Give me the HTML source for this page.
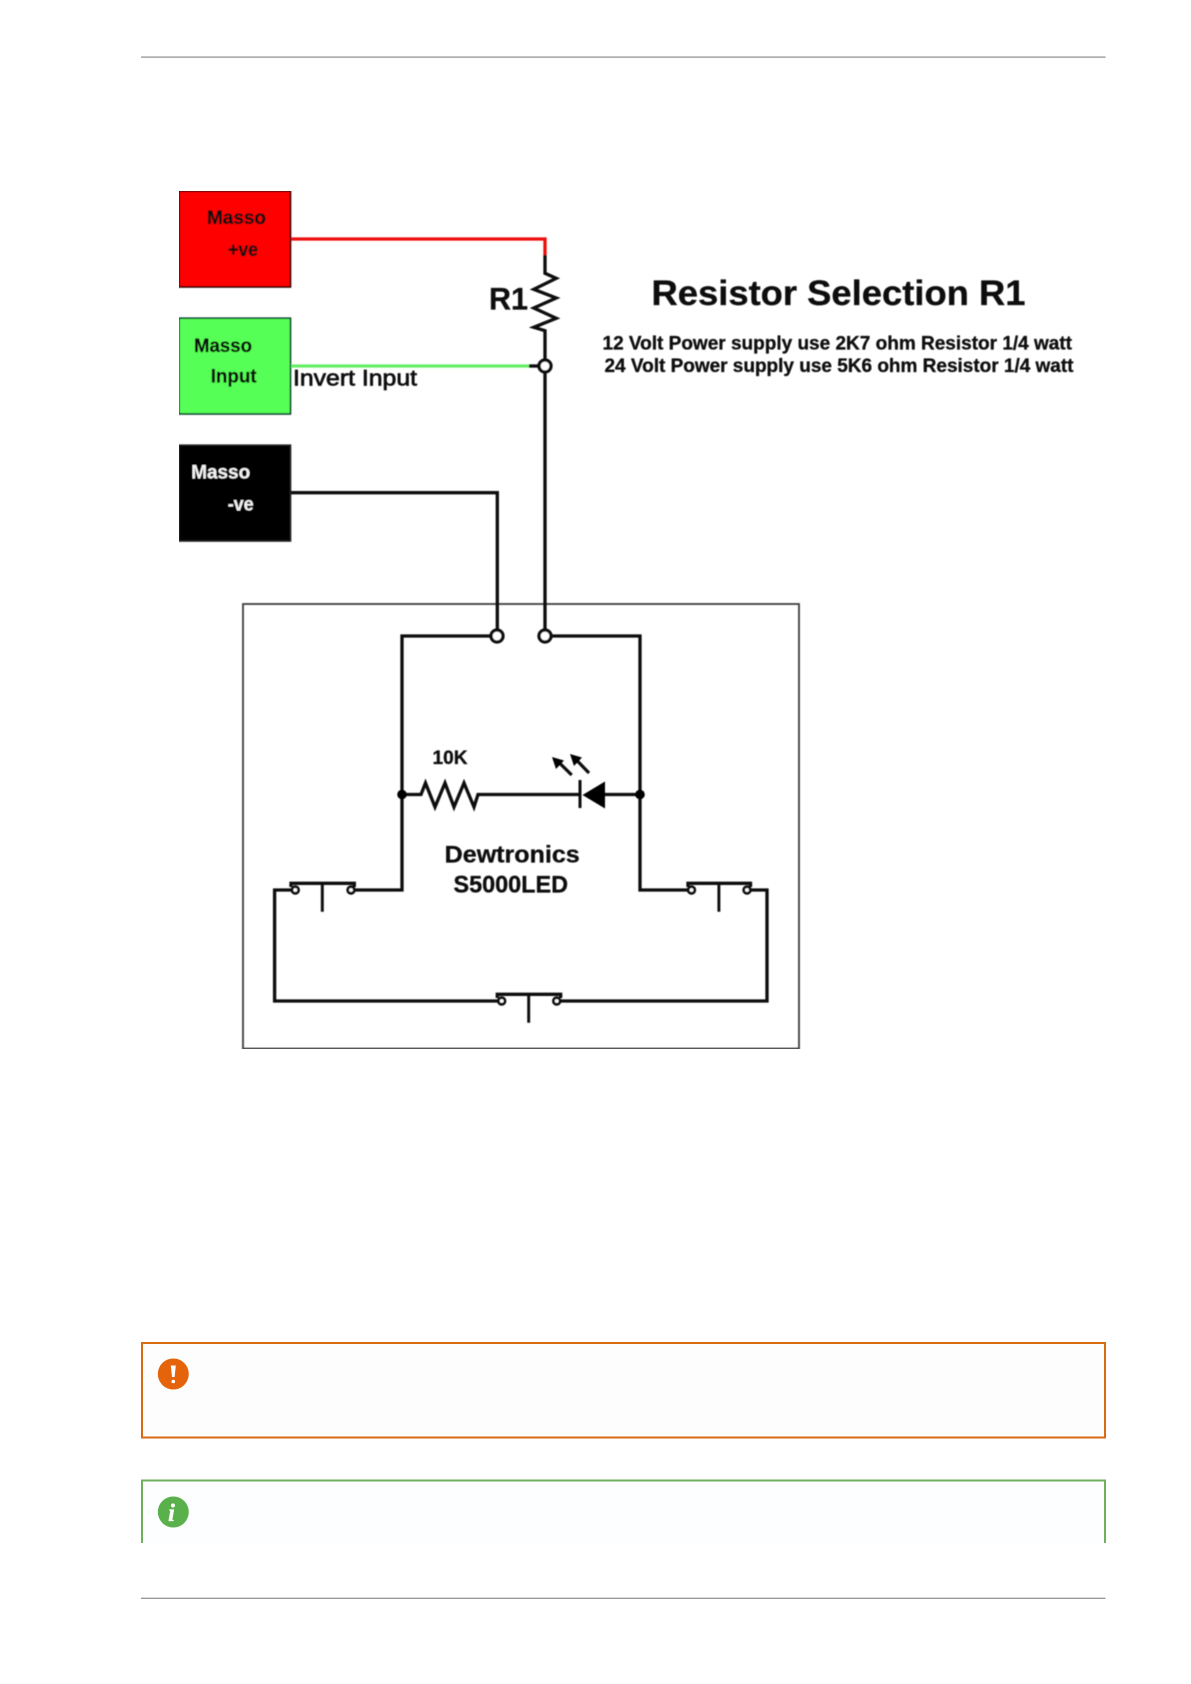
<!DOCTYPE html>
<html><head><meta charset="utf-8"><title>Diagram</title>
<style>html,body{margin:0;padding:0;background:#fff}svg{display:block}
text{font-family:"Liberation Sans",Arial,sans-serif;font-weight:bold;fill:#0a0a0a;stroke:#0a0a0a;stroke-width:.3}</style></head>
<body>
<svg width="1191" height="1684" viewBox="0 0 1191 1684" xmlns="http://www.w3.org/2000/svg">
<defs><filter id="b" x="0" y="0" width="100%" height="100%"><feGaussianBlur stdDeviation="0.4"/></filter></defs>
<rect width="1191" height="1684" fill="#fff"/>
<rect x="141" y="56.5" width="964.5" height="1.2" fill="#8c8c8c"/>
<rect x="141" y="1597.7" width="964.5" height="1.2" fill="#8c8c8c"/>

<g filter="url(#b)">
<rect x="179" y="191.2" width="111.5" height="95.8" fill="#f00" stroke="#300" stroke-width="1.6"/>
<rect x="179" y="318.2" width="111.5" height="95.8" fill="#55ff55" stroke="#143" stroke-width="1.6"/>
<rect x="179" y="445.2" width="111.5" height="95.8" fill="#000" stroke="#222" stroke-width="1.6"/>

<rect x="243" y="604" width="556" height="444.6" fill="none" stroke="#333" stroke-width="1.7"/>

<g fill="none" stroke="#0a0a0a" stroke-width="3.3">
<path d="M291 239H545V255" stroke="#ee0a0a"/>
<path d="M291 366H529" stroke="#66ee66"/>
<path d="M529 366H539"/>
<path d="M545 255V273.3L556.2 278.3L533.8 289.3L556.2 298L533.8 308L556.2 318.3L533.8 327.3L545 330.7V360M545 372V630"/>
<path d="M291 492.7H497.3V630"/>
<path d="M491 636H402V890H354M551 636H640V890H688"/>
<path d="M402 794.5H421L425.5 783L435 807L445 783L454 807L464 783L474 807L478 794.5H580M604 794.5H640"/>
<path d="M292 890H274.6V1001H498M560 1001H767V890H750"/>
<path d="M291 887V883.3H354.3V887"/>
<path d="M688 887V883.3H750.5V887"/>
<path d="M497.3 998V994.3H560.7V998"/>
<path d="M322.3 883V911.7M718.9 883V911.7M528.7 994V1022.7" stroke-width="2.9"/>
<path d="M580 780V808" stroke-width="3"/>
<path d="M571.7 775L558 761.5M589 773L575.5 759" stroke-width="3.2"/>
</g>
<path d="M582.5 795L605 781.5V808.5Z" fill="#000"/>
<path d="M552 757L564 760.5L556 769ZM570 754L582 757.5L574 766Z" fill="#000"/>
<circle cx="402" cy="794.5" r="4.8" fill="#000"/>
<circle cx="640" cy="794.5" r="4.8" fill="#000"/>
<g fill="#fff" stroke="#0a0a0a" stroke-width="3.3">
<circle cx="545" cy="366" r="6"/>
<circle cx="497" cy="636" r="6"/>
<circle cx="545" cy="636" r="6"/>
</g>
<g fill="#fff" stroke="#0a0a0a" stroke-width="2.8">
<circle cx="295.3" cy="890" r="3.3"/><circle cx="351" cy="890" r="3.3"/>
<circle cx="691.5" cy="890" r="3.3"/><circle cx="747" cy="890" r="3.3"/>
<circle cx="501.7" cy="1001" r="3.3"/><circle cx="556.7" cy="1001" r="3.3"/>
</g>

<text x="207" y="224" font-size="19" textLength="59" lengthAdjust="spacingAndGlyphs">Masso</text>
<text x="228" y="256" font-size="19" textLength="30" lengthAdjust="spacingAndGlyphs">+ve</text>
<text x="194" y="352" font-size="19" textLength="58" lengthAdjust="spacingAndGlyphs">Masso</text>
<text x="210.7" y="382.7" font-size="19" textLength="46" lengthAdjust="spacingAndGlyphs">Input</text>
<text x="191.2" y="478.7" font-size="19" textLength="59" lengthAdjust="spacingAndGlyphs" style="fill:#f4f4f4;stroke:none">Masso</text>
<text x="227.7" y="510.5" font-size="19" textLength="26" lengthAdjust="spacingAndGlyphs" style="fill:#f4f4f4;stroke:none">-ve</text>
<text x="293" y="385.5" font-size="22.5" textLength="124" lengthAdjust="spacingAndGlyphs" style="font-weight:normal;stroke-width:.7">Invert Input</text>
<text x="489" y="309.5" font-size="31.5" textLength="39" lengthAdjust="spacingAndGlyphs">R1</text>
<text x="651.5" y="305" font-size="35" textLength="374" lengthAdjust="spacingAndGlyphs">Resistor Selection R1</text>
<text x="602.5" y="349.3" font-size="19" textLength="469.5" lengthAdjust="spacing">12 Volt Power supply use 2K7 ohm Resistor 1/4 watt</text>
<text x="604.5" y="372" font-size="19" textLength="469" lengthAdjust="spacing">24 Volt Power supply use 5K6 ohm Resistor 1/4 watt</text>
<text x="432.5" y="764" font-size="19" textLength="35" lengthAdjust="spacingAndGlyphs">10K</text>
<text x="444.7" y="862.7" font-size="24.5" textLength="135" lengthAdjust="spacingAndGlyphs">Dewtronics</text>
<text x="453.5" y="892.7" font-size="24" textLength="114.5" lengthAdjust="spacingAndGlyphs">S5000LED</text>
</g>

<rect x="142" y="1343" width="963" height="94.5" fill="#fdfdfd" stroke="#d96b10" stroke-width="2"/>
<circle cx="173.3" cy="1374" r="15.5" fill="#e5630a"/>
<path d="M170.8 1365.5h5l-1.2 11.5h-2.6Z" fill="#fff"/>
<circle cx="173.3" cy="1381.5" r="1.8" fill="#fff"/>

<path d="M142 1543V1480.5H1105V1543Z" fill="#fdfeff"/>
<path d="M142 1543V1480.5H1105V1543" fill="none" stroke="#6fb05f" stroke-width="2"/>
<rect x="141" y="1543" width="966" height="6" fill="#fff"/>
<circle cx="173.3" cy="1512" r="15.5" fill="#5ab04a"/>
<text x="168" y="1521" font-size="25" style="fill:#fff;stroke:#fff;font-family:'Liberation Serif',serif;font-style:italic;font-weight:bold">i</text>
</svg>
</body></html>
